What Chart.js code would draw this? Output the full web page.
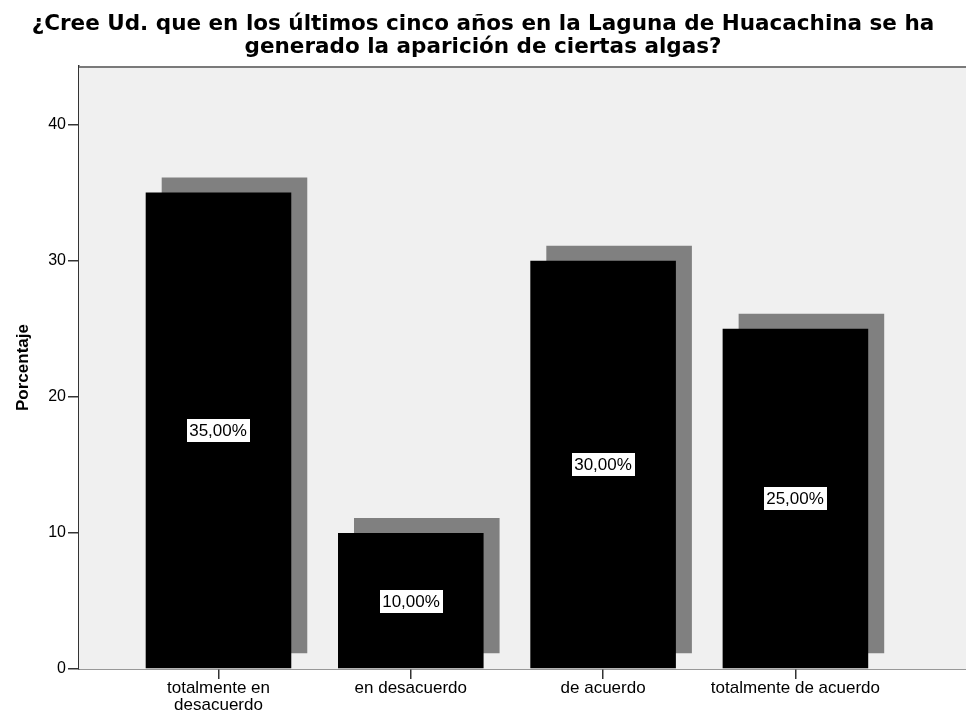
<!DOCTYPE html>
<html>
<head>
<meta charset="utf-8">
<script src="https://cdn.jsdelivr.net/npm/chart.js@4/dist/chart.umd.min.js"></script>
<style>
  html, body { margin: 0; padding: 0; background: #ffffff; }
  #wrap { width: 966px; height: 713px; position: relative; }
</style>
</head>
<body>
<div id="wrap"><canvas id="c"></canvas></div>
<script>
const titleLines = [
  '¿Cree Ud. que en los últimos cinco años en la Laguna de Huacachina se ha',
  'generado la aparición de ciertas algas?'
];
const categories = [
  ['totalmente en', 'desacuerdo'],
  'en desacuerdo',
  'de acuerdo',
  'totalmente de acuerdo'
];
const percentages = [35, 10, 30, 25];
const yTickValues = [0, 10, 20, 30, 40];
const yAxisTitle = 'Porcentaje';

const categoryPositions = categories.map((c, i) => i + 1);

const plotBackground = {
  id: 'plotBackground',
  beforeDatasetsDraw(chart) {
    const { ctx, chartArea: a } = chart;
    ctx.save();
    ctx.fillStyle = '#f0f0f0';
    ctx.fillRect(a.left, a.top, a.right - a.left, a.bottom - a.top);
    ctx.strokeStyle = '#7a7a7a';
    ctx.lineWidth = 2;
    ctx.beginPath();
    ctx.moveTo(a.left, a.top + 1);
    ctx.lineTo(a.right, a.top + 1);
    ctx.stroke();
    ctx.restore();
  }
};

const barShadow = {
  id: 'barShadow',
  beforeDatasetDraw(chart) {
    const ctx = chart.ctx;
    ctx.save();
    ctx.shadowColor = '#808080';
    ctx.shadowOffsetX = 16;
    ctx.shadowOffsetY = -15;
    ctx.shadowBlur = 0;
  },
  afterDatasetDraw(chart) {
    chart.ctx.restore();
  }
};

const barLabels = {
  id: 'barLabels',
  afterDatasetsDraw(chart) {
    const { ctx } = chart;
    const meta = chart.getDatasetMeta(0);
    ctx.save();
    ctx.font = '17px "Liberation Sans", Arial, sans-serif';
    ctx.textAlign = 'center';
    ctx.textBaseline = 'middle';
    meta.data.forEach((bar, i) => {
      const txt = percentages[i].toFixed(2).replace('.', ',') + '%';
      const w = ctx.measureText(txt).width + 6;
      const h = 24;
      const cx = Math.round(bar.x);
      const cy = Math.round((bar.y + bar.base) / 2);
      const x0 = Math.round(cx - w / 2) + 0.5;
      const y0 = Math.round(cy - h / 2) + 0.5;
      ctx.fillStyle = '#ffffff';
      ctx.fillRect(x0, y0, Math.round(w), h);
      ctx.strokeStyle = '#000000';
      ctx.lineWidth = 1;
      ctx.strokeRect(x0, y0, Math.round(w), h);
      ctx.fillStyle = '#000000';
      ctx.fillText(txt, cx, cy + 1);
    });
    ctx.restore();
  }
};

new Chart(document.getElementById('c'), {
  type: 'bar',
  data: {
    datasets: [{
      data: percentages.map((v, i) => ({ x: categoryPositions[i], y: v })),
      backgroundColor: '#000000',
      borderWidth: 0,
      barPercentage: 0.757,
      categoryPercentage: 1.0
    }]
  },
  options: {
    responsive: true,
    maintainAspectRatio: false,
    animation: false,
    layout: { padding: { left: 0, right: 0, top: 0, bottom: 0 } },
    plugins: {
      legend: { display: false },
      tooltip: { enabled: false },
      title: {
        display: true,
        text: titleLines,
        color: '#000000',
        font: { family: '"DejaVu Sans", sans-serif', size: 21.5, weight: 'bold', lineHeight: 1.07 },
        padding: { top: 13, bottom: 7 }
      }
    },
    scales: {
      x: {
        type: 'linear',
        offset: false,
        min: 0.2747,
        max: 4.887,
        afterBuildTicks(scale) { scale.ticks = categoryPositions.map(v => ({ value: v })); },
        afterFit(scale) { scale.height = 44; },
        grid: { offset: false, drawOnChartArea: false, drawTicks: true, tickLength: 10, color: '#333333', lineWidth: 1.5 },
        border: { display: true, color: '#333333', width: 1.5 },
        ticks: {
          autoSkip: false,
          maxRotation: 0,
          padding: 1,
          color: '#000000',
          font: { family: '"Liberation Sans", Arial, sans-serif', size: 17, lineHeight: 1.0 },
          callback(v) { return categories[v - 1]; }
        }
      },
      y: {
        min: 0,
        max: 44.3,
        afterBuildTicks(scale) { scale.ticks = yTickValues.map(v => ({ value: v })); },
        afterFit(scale) { scale.width = 79; },
        grid: { drawOnChartArea: false, drawTicks: true, tickLength: 11, color: '#333333', lineWidth: 1.5 },
        border: { display: true, color: '#333333', width: 1.5 },
        ticks: {
          padding: 2,
          color: '#000000',
          font: { family: '"Liberation Sans", Arial, sans-serif', size: 16 }
        },
        title: {
          display: true,
          text: yAxisTitle,
          color: '#000000',
          font: { family: '"Liberation Sans", Arial, sans-serif', size: 17, weight: 'bold' },
          padding: { top: 13, bottom: 0 }
        }
      }
    }
  },
  plugins: [plotBackground, barShadow, barLabels]
});
</script>
</body>
</html>
